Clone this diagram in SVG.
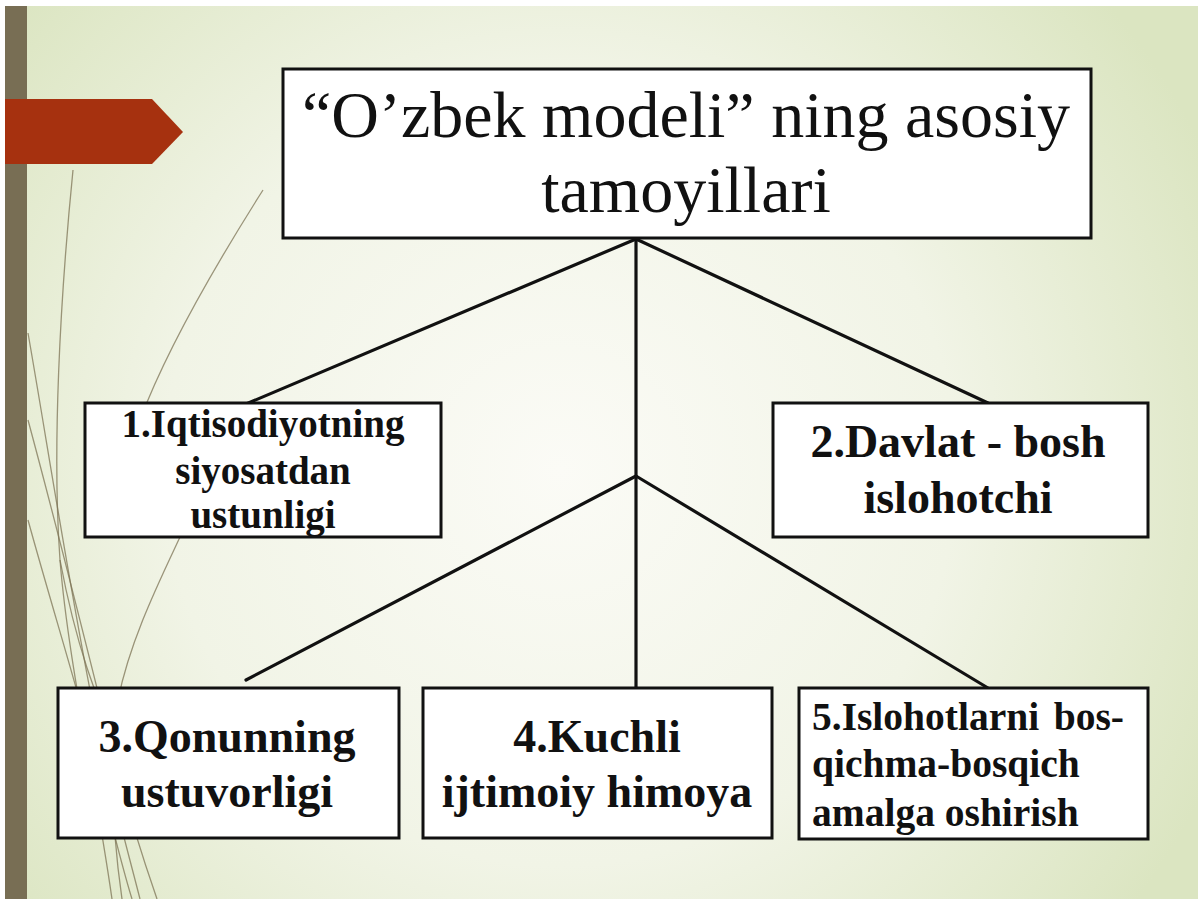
<svg xmlns="http://www.w3.org/2000/svg" width="1198" height="899" viewBox="0 0 1198 899">
<defs>
<radialGradient id="bg" cx="560" cy="470" r="720" gradientUnits="userSpaceOnUse">
<stop offset="0" stop-color="#fbfbf6"/>
<stop offset="0.55" stop-color="#f1f4e6"/>
<stop offset="1" stop-color="#dbe5c1"/>
</radialGradient>
<style>
.box{fill:#fff;stroke:#111;stroke-width:3}
.conn{stroke:#111;stroke-width:3.2;fill:none;stroke-linecap:round}
.wisp{fill:none;stroke:#7d7456;stroke-width:1.3;opacity:0.75}
.title{font-family:"Liberation Serif","Times New Roman",serif;font-size:66px;fill:#111;text-anchor:middle}
.lbl{font-family:"Liberation Serif","Times New Roman",serif;font-weight:bold;fill:#111;text-anchor:middle}
</style>
</defs>
<rect x="0" y="0" width="1198" height="899" fill="#fff"/>
<rect x="5" y="6" width="1193" height="893" fill="url(#bg)"/>
<g id="decor">
<path class="wisp" d="M73,170 C60,300 52,450 60,560 C68,660 95,780 112,899"/>
<path class="wisp" d="M263,190 C225,250 170,340 140,420"/>
<path class="wisp" d="M180,537 C160,580 130,640 118,700 C110,760 112,830 122,899"/>
<path class="wisp" d="M28,333 C45,430 65,560 90,690 C105,770 125,840 140,899"/>
<path class="wisp" d="M28,420 C55,520 80,620 100,700 C118,780 140,850 157,899"/>
<path class="wisp" d="M28,520 C50,600 75,680 96,760 C108,810 120,860 132,899"/>
<path class="wisp" d="M60,560 C75,640 95,700 125,760"/>
</g>
<rect x="5" y="6" width="22" height="893" fill="#786e54"/>
<polygon points="5,99 152,99 183,132 152,164 5,164" fill="#a6310f"/>
<g id="connectors">
<line class="conn" x1="636" y1="239" x2="246" y2="404"/>
<line class="conn" x1="636" y1="239" x2="988" y2="403"/>
<line class="conn" x1="636" y1="239" x2="636" y2="688"/>
<line class="conn" x1="636" y1="476" x2="246" y2="680"/>
<line class="conn" x1="636" y1="476" x2="988" y2="688"/>
</g>
<g id="node-title">
<rect class="box" x="283" y="69" width="808" height="169"/>
<text class="title" x="686" y="137">“O’zbek modeli” ning asosiy</text>
<text class="title" x="686" y="212">tamoyillari</text>
</g>
<g id="node-1">
<rect class="box" x="85" y="403" width="356" height="134"/>
<text class="lbl" font-size="39" x="263" y="437">1.Iqtisodiyotning</text>
<text class="lbl" font-size="39" x="263" y="484">siyosatdan</text>
<text class="lbl" font-size="39" x="263" y="528">ustunligi</text>
</g>
<g id="node-2">
<rect class="box" x="773" y="403" width="375" height="134"/>
<text class="lbl" font-size="46" x="958" y="457">2.Davlat - bosh</text>
<text class="lbl" font-size="46" x="958" y="513">islohotchi</text>
</g>
<g id="node-3">
<rect class="box" x="58" y="688" width="341" height="150"/>
<text class="lbl" font-size="46" x="227" y="752">3.Qonunning</text>
<text class="lbl" font-size="46" x="227" y="807">ustuvorligi</text>
</g>
<g id="node-4">
<rect class="box" x="423" y="688" width="349" height="150"/>
<text class="lbl" font-size="46" x="597" y="752">4.Kuchli</text>
<text class="lbl" font-size="46" x="597" y="807">ijtimoiy himoya</text>
</g>
<g id="node-5">
<rect class="box" x="799" y="688" width="349" height="151"/>
<text class="lbl" font-size="39.5" style="text-anchor:start" x="812" y="730">5.Islohotlarni</text>
<text class="lbl" font-size="39.5" style="text-anchor:end" x="1124" y="730">bos-</text>
<text class="lbl" font-size="39.5" style="text-anchor:start" x="812" y="777">qichma-bosqich</text>
<text class="lbl" font-size="39.5" style="text-anchor:start" x="812" y="826">amalga oshirish</text>
</g>
</svg>
